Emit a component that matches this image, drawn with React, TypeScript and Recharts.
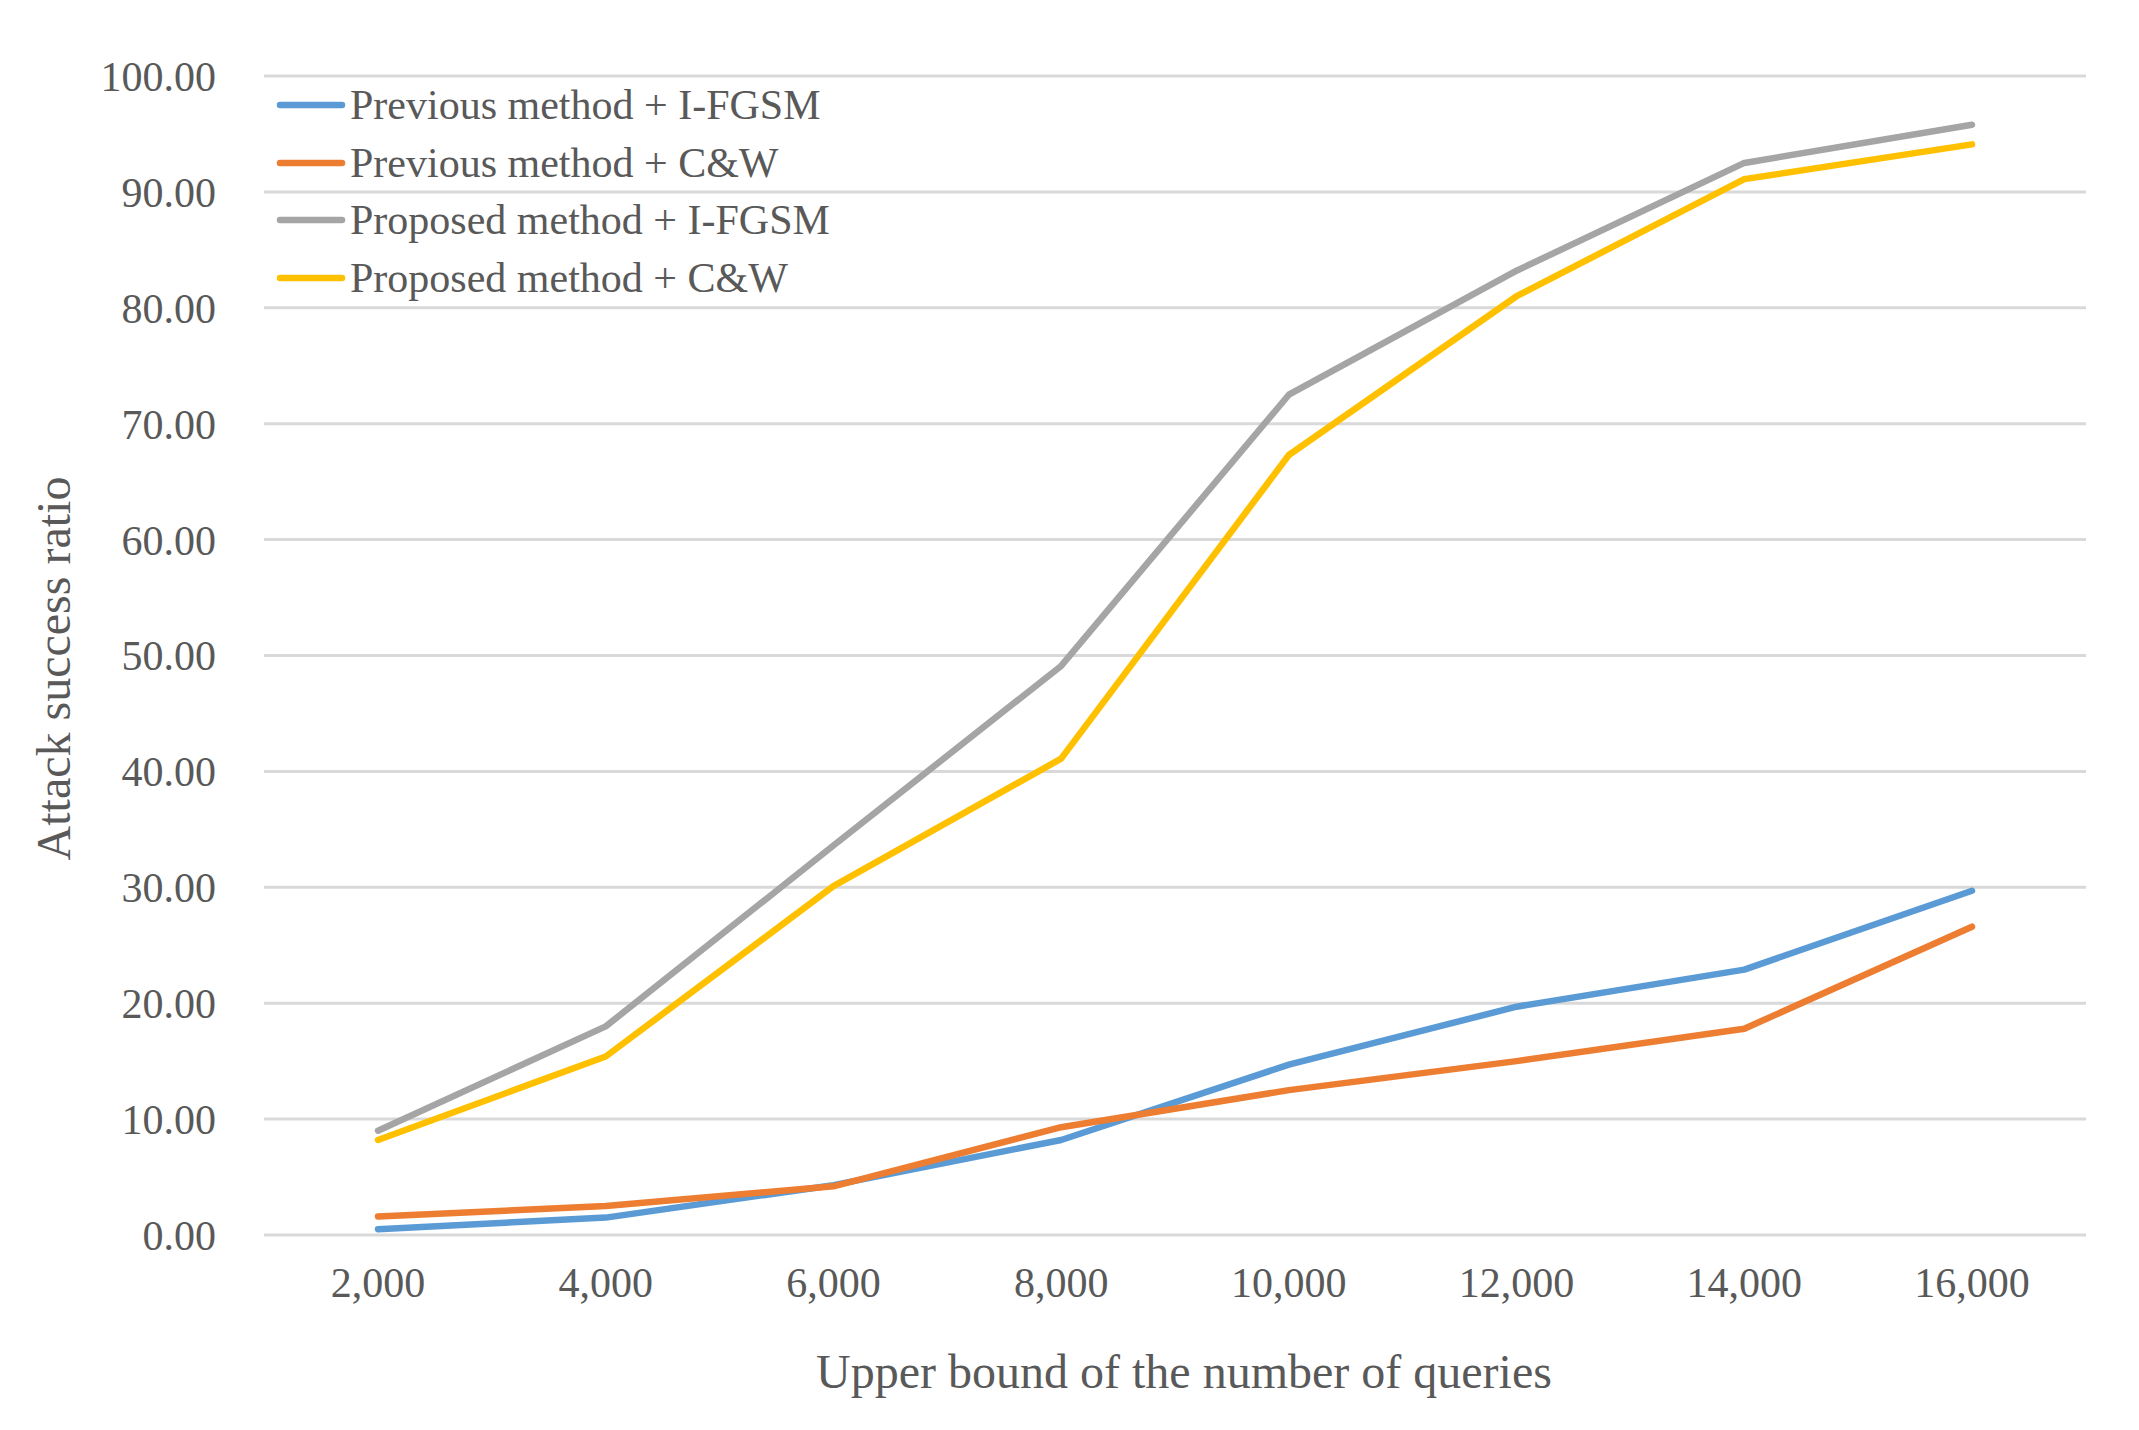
import React from 'react';
import {
  LineChart,
  Line,
  XAxis,
  YAxis,
  CartesianGrid,
  Label,
} from 'recharts';

// query budgets (x axis)
const queries = ['2,000', '4,000', '6,000', '8,000', '10,000', '12,000', '14,000', '16,000'];

// attack success ratio (%) per series
const prevIfgsm = [0.5, 1.5, 4.3, 8.2, 14.7, 19.7, 22.9, 29.7];
const prevCw = [1.6, 2.5, 4.2, 9.3, 12.5, 15.0, 17.8, 26.6];
const propIfgsm = [9.0, 18.0, 33.6, 49.1, 72.5, 83.2, 92.5, 95.8];
const propCw = [8.2, 15.4, 30.1, 41.1, 67.3, 81.0, 91.1, 94.1];

const yTicks = [0, 10, 20, 30, 40, 50, 60, 70, 80, 90, 100];

const series = [
  { key: 'prevIfgsm', name: 'Previous method + I-FGSM', color: '#5B9BD5' },
  { key: 'prevCw', name: 'Previous method + C&W', color: '#ED7D31' },
  { key: 'propIfgsm', name: 'Proposed method + I-FGSM', color: '#A5A5A5' },
  { key: 'propCw', name: 'Proposed method + C&W', color: '#FFC000' },
];

const data = queries.map((q, i) => ({
  q,
  prevIfgsm: prevIfgsm[i],
  prevCw: prevCw[i],
  propIfgsm: propIfgsm[i],
  propCw: propCw[i],
}));

const FONT = '"Liberation Serif", "Times New Roman", serif';
const TEXT = '#595959';

// legend sits inside the plot, top-left, like the Excel original
function LegendBox() {
  return (
    <div
      style={{
        position: 'absolute',
        left: 276,
        top: 76,
        fontFamily: FONT,
        fontSize: 42,
        color: TEXT,
      }}
    >
      {series.map((s) => (
        <div key={s.key} style={{ display: 'flex', alignItems: 'center', height: 57.7 }}>
          <svg width={70} height={10} style={{ marginRight: 4 }}>
            <line x1={4} y1={5} x2={66} y2={5} stroke={s.color} strokeWidth={6.5} strokeLinecap="round" />
          </svg>
          <span style={{ lineHeight: 1, whiteSpace: 'nowrap' }}>{s.name}</span>
        </div>
      ))}
    </div>
  );
}

export default function App() {
  return (
    <div style={{ position: 'absolute', left: 0, top: 0, width: 2139, height: 1430, background: '#fff' }}>
      <LineChart
        width={2139}
        height={1430}
        data={data}
        margin={{ top: 76, right: 53, bottom: 0, left: 0 }}
      >
        <CartesianGrid horizontal vertical={false} stroke="#D9D9D9" strokeWidth={3} />
        <XAxis
          dataKey="q"
          height={195}
          padding={{ left: 114, right: 114 }}
          axisLine={false}
          tickLine={false}
          tickSize={0}
          tickMargin={32}
          tick={{ fontFamily: FONT, fontSize: 42, fill: TEXT }}
        >
          <Label
            content={({ viewBox }: any) => (
              <text
                x={viewBox.x + viewBox.width / 2 + 9}
                y={viewBox.y + 153}
                textAnchor="middle"
                fontFamily={FONT}
                fontSize={48}
                fill={TEXT}
              >
                Upper bound of the number of queries
              </text>
            )}
          />
        </XAxis>
        <YAxis
          width={264}
          domain={[0, 100]}
          ticks={yTicks}
          interval={0}
          axisLine={false}
          tickLine={false}
          tickSize={0}
          tickMargin={48}
          tickFormatter={(v: number) => v.toFixed(2)}
          tick={{ fontFamily: FONT, fontSize: 42, fill: TEXT }}
        >
          <Label
            content={({ viewBox }: any) => {
              const cx = viewBox.x + 70;
              const cy = viewBox.y + viewBox.height / 2 + 13;
              return (
                <text
                  x={cx}
                  y={cy}
                  transform={`rotate(-90, ${cx}, ${cy})`}
                  textAnchor="middle"
                  fontFamily={FONT}
                  fontSize={48}
                  fill={TEXT}
                >
                  Attack success ratio
                </text>
              );
            }}
          />
        </YAxis>
        {series.map((s) => (
          <Line
            key={s.key}
            type="linear"
            dataKey={s.key}
            name={s.name}
            stroke={s.color}
            strokeWidth={6.5}
            strokeLinecap="round"
            strokeLinejoin="round"
            dot={false}
            activeDot={false}
            isAnimationActive={false}
          />
        ))}
      </LineChart>
      <LegendBox />
    </div>
  );
}
